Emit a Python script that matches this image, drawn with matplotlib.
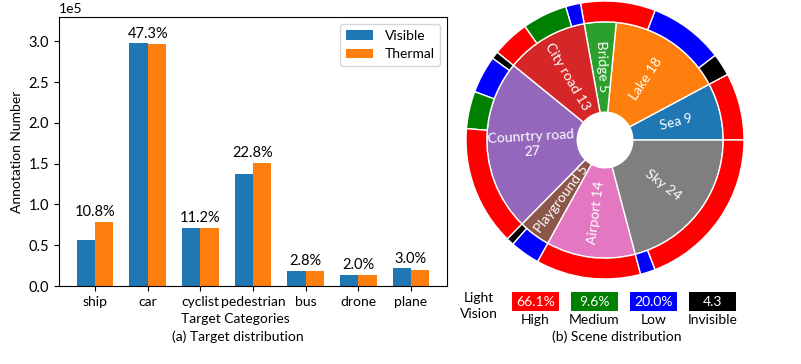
import numpy as np
import matplotlib.pyplot as plt
from matplotlib.patches import Rectangle

plt.rcParams['font.family'] = ['Lato', 'DejaVu Sans']

# (a) annotations per target category
categories = ['ship', 'car', 'cyclist', 'pedestrian', 'bus', 'drone', 'plane']
visible = [0.57e5, 2.975e5, 0.714e5, 1.37e5, 0.187e5, 0.131e5, 0.217e5]
thermal = [0.79e5, 2.966e5, 0.706e5, 1.514e5, 0.187e5, 0.138e5, 0.20e5]
share = ['10.8%', '47.3%', '11.2%', '22.8%', '2.8%', '2.0%', '3.0%']

# (b) scenes and their light conditions (outer ring, same order round the circle)
scenes = ['Sea 9', 'Lake 18', 'Bridge 5', 'City road 13', 'Counrtry road\n27',
          'Playground 5', 'Airport 14', 'Sky 24']
scene_counts = [9, 18, 5, 13, 27, 5, 14, 24]
ring_levels = ['High', 'Invisible', 'Low', 'High', 'Low', 'Medium', 'High', 'Invisible',
               'Low', 'Medium', 'High', 'Invisible', 'Low', 'High', 'Low', 'High']
ring_counts = [9, 3, 10, 10, 2, 6, 5, 1, 5, 5, 16, 1, 4, 14, 2, 22]
levels = ['High', 'Medium', 'Low', 'Invisible']
level_share = ['66.1%', '9.6%', '20.0%', '4.3']
level_colors = {'High': 'red', 'Medium': 'green', 'Low': 'blue', 'Invisible': 'black'}

W, H = 801, 364
fig = plt.figure(figsize=(W / 100, H / 100), dpi=100)

# ---- bar chart
ax = fig.add_axes([59 / W, 78 / H, 388 / W, 269 / H])
x = np.arange(len(categories))
w = 0.35
ax.bar(x - w / 2, visible, w, label='Visible')
ax.bar(x + w / 2, thermal, w, label='Thermal')
for xi, v, t, s in zip(x, visible, thermal, share):
    ax.annotate(s, (xi, max(v, t)), xytext=(0, 2), textcoords='offset points',
                ha='center', va='bottom', fontsize=10.5)
ax.set_xticks(x, categories)
ax.set_ylim(0, 3.3e5)
ax.ticklabel_format(axis='y', style='sci', scilimits=(0, 0))
ax.tick_params(labelsize=10)
ax.tick_params(axis='y', labelsize=10.5)
ax.set_ylabel('Annotation Number', fontsize=10)
ax.set_xlabel('Target Categories', fontsize=10)
ax.xaxis.set_label_coords(0.454, -0.1)
ax.legend(fontsize=10)
fig.text(238 / W, 1 - 337 / H, '(a) Target distribution', ha='center', va='center', fontsize=10)

# ---- nested pie
pax = fig.add_axes([466 / W, 85 / H, 278 / W, 278 / H])
wedges, _ = pax.pie(scene_counts, radius=0.85, startangle=0,
                    colors=[f'C{i}' for i in range(len(scenes))],
                    wedgeprops=dict(width=0.65, edgecolor='white', linewidth=1))
pax.pie(ring_counts, radius=1.0, startangle=0,
        colors=[level_colors[l] for l in ring_levels],
        wedgeprops=dict(width=0.15, edgecolor='white', linewidth=1))
pax.set_xlim(-1, 1)
pax.set_ylim(-1, 1)
for wdg, name in zip(wedges, scenes):
    mid = (wdg.theta1 + wdg.theta2) / 2
    rot = mid - 180 if 90 < mid < 270 else mid
    r = 0.53
    pax.text(r * np.cos(np.radians(mid)), r * np.sin(np.radians(mid)), name,
             rotation=rot, rotation_mode='anchor', ha='center', va='center',
             color='white', fontsize=10, linespacing=1.3)

# ---- light vision legend
fig.text(479 / W, 1 - 306 / H, 'Light\nVision', ha='center', va='center',
         fontsize=10, linespacing=1.4)
for i, (lvl, s) in enumerate(zip(levels, level_share)):
    x0 = 512 + 59 * i
    fig.patches.append(Rectangle((x0 / W, 1 - 311 / H), 47 / W, 19 / H,
                                 transform=fig.transFigure,
                                 facecolor=level_colors[lvl], edgecolor='none'))
    fig.text((x0 + 23.5) / W, 1 - 301.5 / H, s, color='white', ha='center',
             va='center', fontsize=10)
    fig.text((x0 + 23.5) / W, 1 - 319.5 / H, lvl, ha='center', va='center', fontsize=10)
fig.text(617 / W, 1 - 336.5 / H, '(b) Scene distribution', ha='center', va='center', fontsize=10)

fig.savefig('out.png', dpi=100)
